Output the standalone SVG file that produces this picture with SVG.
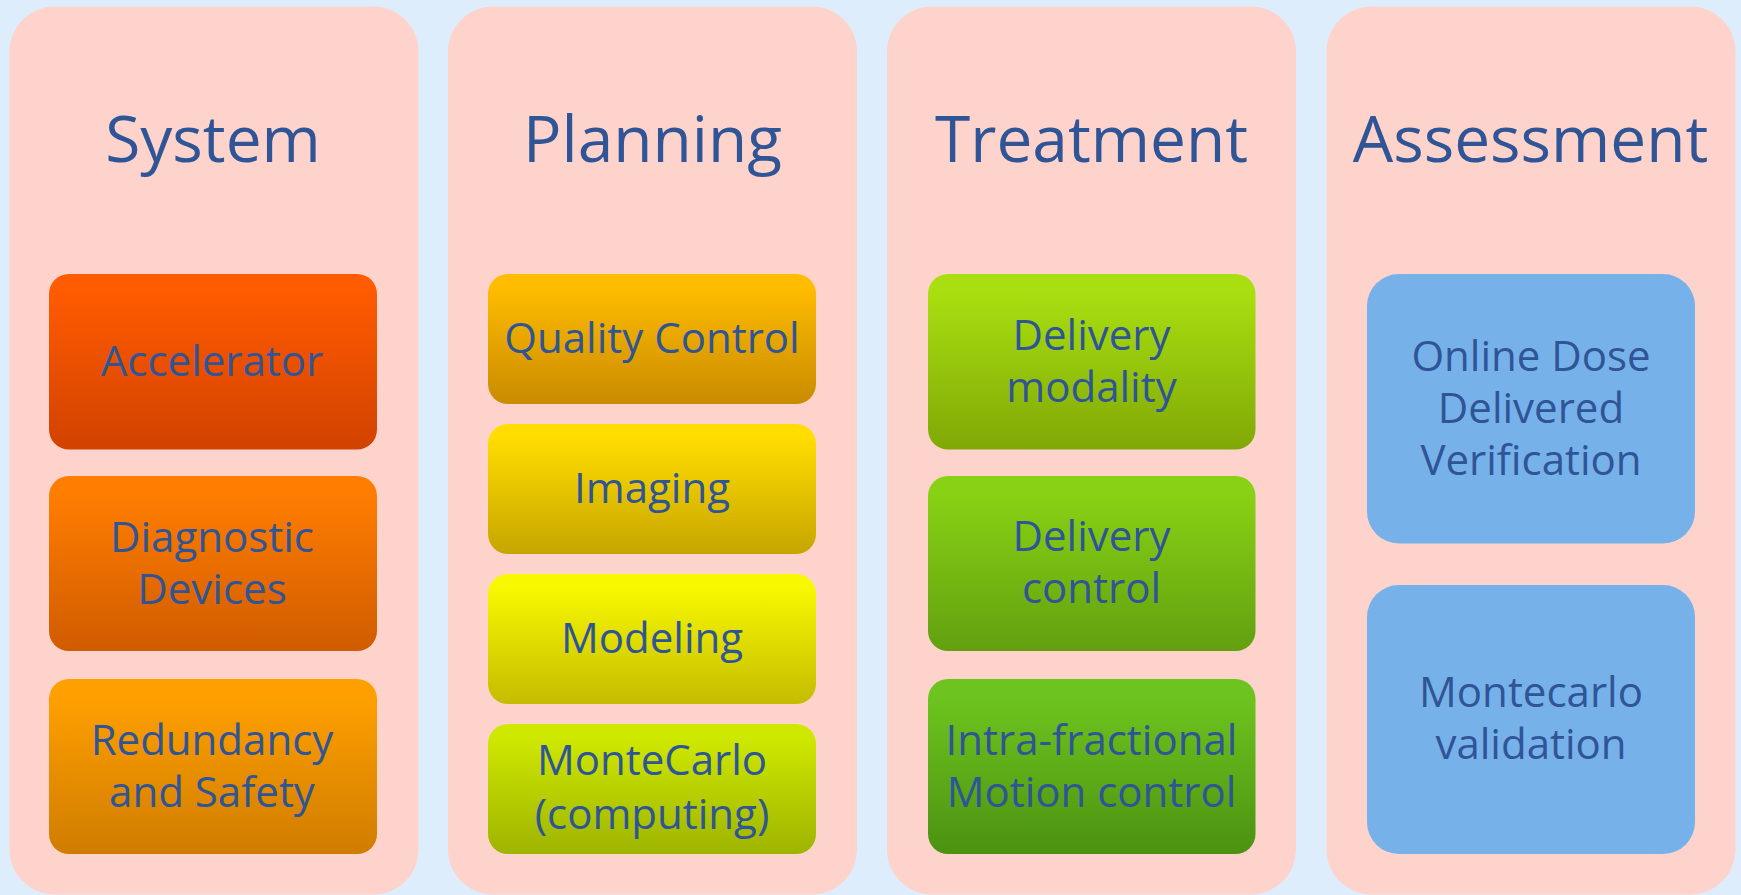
<svg xmlns="http://www.w3.org/2000/svg" width="1741" height="895" viewBox="0 0 1741 895">
  <defs>
    <!-- vertical shading: flat band at the top, then darker toward the bottom -->
    <linearGradient id="gAcc" x1="0" y1="0" x2="0" y2="1"><stop offset="0" stop-color="#ff5b00"/><stop offset="0.1" stop-color="#ff5b00"/><stop offset="1" stop-color="#d14200"/></linearGradient>
    <linearGradient id="gDia" x1="0" y1="0" x2="0" y2="1"><stop offset="0" stop-color="#ff7d00"/><stop offset="0.1" stop-color="#ff7d00"/><stop offset="1" stop-color="#d05c00"/></linearGradient>
    <linearGradient id="gRed" x1="0" y1="0" x2="0" y2="1"><stop offset="0" stop-color="#ffa000"/><stop offset="0.1" stop-color="#ffa000"/><stop offset="1" stop-color="#cf7c00"/></linearGradient>
    <linearGradient id="gQua" x1="0" y1="0" x2="0" y2="1"><stop offset="0" stop-color="#ffbc00"/><stop offset="0.1" stop-color="#ffbc00"/><stop offset="1" stop-color="#c98b00"/></linearGradient>
    <linearGradient id="gIma" x1="0" y1="0" x2="0" y2="1"><stop offset="0" stop-color="#ffdd00"/><stop offset="0.1" stop-color="#ffdd00"/><stop offset="1" stop-color="#c6a500"/></linearGradient>
    <linearGradient id="gMod" x1="0" y1="0" x2="0" y2="1"><stop offset="0" stop-color="#f8f800"/><stop offset="0.1" stop-color="#f8f800"/><stop offset="1" stop-color="#c4bc00"/></linearGradient>
    <linearGradient id="gMC" x1="0" y1="0" x2="0" y2="1"><stop offset="0" stop-color="#cfe800"/><stop offset="0.1" stop-color="#cfe800"/><stop offset="1" stop-color="#9eb400"/></linearGradient>
    <linearGradient id="gDM" x1="0" y1="0" x2="0" y2="1"><stop offset="0" stop-color="#a9df10"/><stop offset="0.1" stop-color="#a9df10"/><stop offset="1" stop-color="#80a806"/></linearGradient>
    <linearGradient id="gDC" x1="0" y1="0" x2="0" y2="1"><stop offset="0" stop-color="#88d114"/><stop offset="0.1" stop-color="#88d114"/><stop offset="1" stop-color="#62a010"/></linearGradient>
    <linearGradient id="gIF" x1="0" y1="0" x2="0" y2="1"><stop offset="0" stop-color="#6dc41e"/><stop offset="0.1" stop-color="#6dc41e"/><stop offset="1" stop-color="#4c9212"/></linearGradient>
  </defs>
  <style>
    .panel { fill: #fed3cb; }
    .title { font-family: "Open Sans", "Noto Sans", sans-serif; font-size: 64px; fill: #2f5597; text-anchor: middle; }
    .lbl { font-family: "Open Sans", "Noto Sans", sans-serif; font-size: 42px; fill: #2f5597; text-anchor: middle; }
    .blue { fill: #77b1e9; }
  </style>

  <rect x="0" y="0" width="1741" height="895" fill="#deedfc"/>

  <!-- System column -->
  <g id="col-system">
    <rect class="panel" x="9.5" y="6.5" width="409" height="888" rx="45"/>
    <text class="title" x="213" y="162">System</text>
  </g>
  <g id="accelerator">
    <rect x="49" y="274" width="328" height="175.5" rx="20" fill="url(#gAcc)"/>
    <text class="lbl" x="212" y="376">Accelerator</text>
  </g>
  <g id="diagnostic-devices">
    <rect x="49" y="476" width="328" height="175" rx="20" fill="url(#gDia)"/>
    <text class="lbl" x="212" y="552">Diagnostic</text>
    <text class="lbl" x="212" y="604">Devices</text>
  </g>
  <g id="redundancy-safety">
    <rect x="49" y="679" width="328" height="175" rx="20" fill="url(#gRed)"/>
    <text class="lbl" x="212" y="755">Redundancy</text>
    <text class="lbl" x="212" y="807">and Safety</text>
  </g>

  <!-- Planning column -->
  <g id="col-planning">
    <rect class="panel" x="448" y="6.5" width="409" height="888" rx="45"/>
    <text class="title" x="652.5" y="162">Planning</text>
  </g>
  <g id="quality-control">
    <rect x="488" y="274" width="328" height="130" rx="20" fill="url(#gQua)"/>
    <text class="lbl" x="652" y="353">Quality Control</text>
  </g>
  <g id="imaging">
    <rect x="488" y="424" width="328" height="130" rx="20" fill="url(#gIma)"/>
    <text class="lbl" x="652" y="503">Imaging</text>
  </g>
  <g id="modeling">
    <rect x="488" y="574" width="328" height="130" rx="20" fill="url(#gMod)"/>
    <text class="lbl" x="652" y="653">Modeling</text>
  </g>
  <g id="montecarlo-computing">
    <rect x="488" y="724" width="328" height="130" rx="20" fill="url(#gMC)"/>
    <text class="lbl" x="652" y="775">MonteCarlo</text>
    <text class="lbl" x="652" y="829">(computing)</text>
  </g>

  <!-- Treatment column -->
  <g id="col-treatment">
    <rect class="panel" x="887" y="6.5" width="409" height="888" rx="45"/>
    <text class="title" x="1091.5" y="162">Treatment</text>
  </g>
  <g id="delivery-modality">
    <rect x="928" y="274" width="327.5" height="175.5" rx="20" fill="url(#gDM)"/>
    <text class="lbl" x="1091.5" y="350">Delivery</text>
    <text class="lbl" x="1091.5" y="402">modality</text>
  </g>
  <g id="delivery-control">
    <rect x="928" y="476" width="327.5" height="175" rx="20" fill="url(#gDC)"/>
    <text class="lbl" x="1091.5" y="551">Delivery</text>
    <text class="lbl" x="1091.5" y="603">control</text>
  </g>
  <g id="intra-fractional">
    <rect x="928" y="679" width="327.5" height="175" rx="20" fill="url(#gIF)"/>
    <text class="lbl" x="1091.5" y="755">Intra-fractional</text>
    <text class="lbl" x="1091.5" y="807">Motion control</text>
  </g>

  <!-- Assessment column -->
  <g id="col-assessment">
    <rect class="panel" x="1326.5" y="6.5" width="409" height="888" rx="45"/>
    <text class="title" x="1530.5" y="162">Assessment</text>
  </g>
  <g id="online-dose">
    <rect class="blue" x="1367" y="274" width="328" height="269.5" rx="32"/>
    <text class="lbl" x="1531" y="371">Online Dose</text>
    <text class="lbl" x="1531" y="423">Delivered</text>
    <text class="lbl" x="1531" y="475">Verification</text>
  </g>
  <g id="montecarlo-validation">
    <rect class="blue" x="1367" y="585" width="328" height="269" rx="32"/>
    <text class="lbl" x="1531" y="707">Montecarlo</text>
    <text class="lbl" x="1531" y="759">validation</text>
  </g>

  <!-- no connectors in this layout -->
  <g id="connectors"/>
</svg>
